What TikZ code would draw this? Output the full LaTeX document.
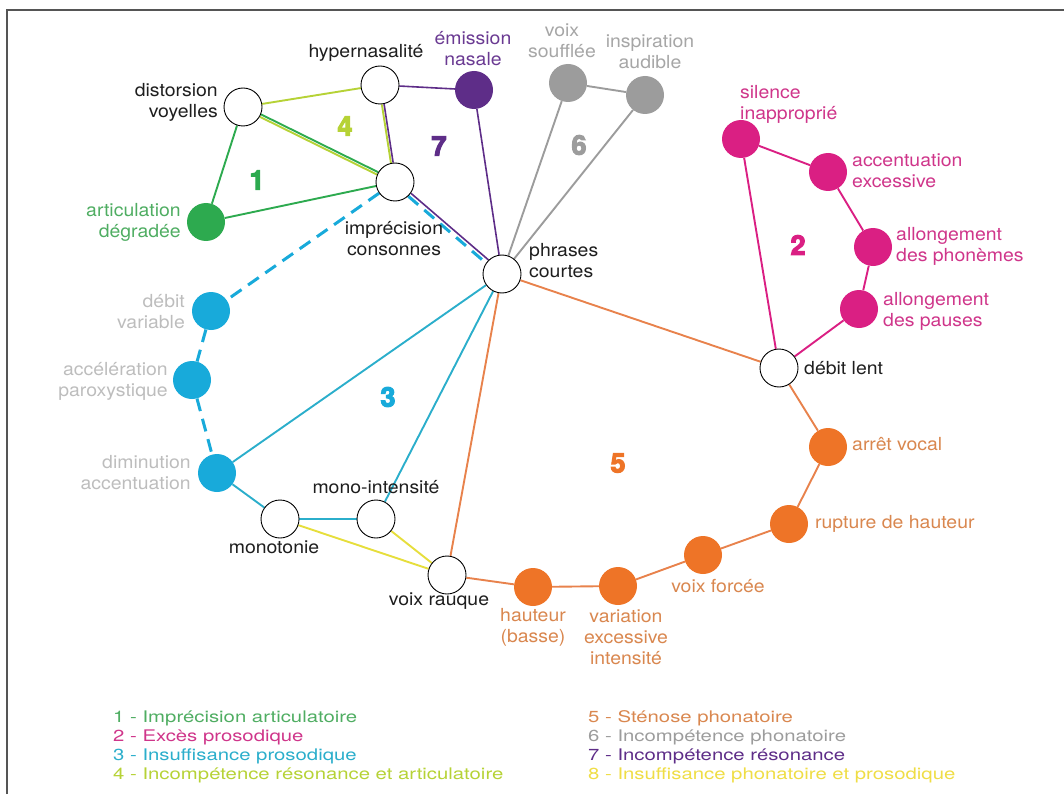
\documentclass[tikz,border=0pt]{standalone}
\usepackage{fontspec}
\setmainfont{TeX Gyre Heros}
\newfontfamily\labfont[FakeStretch=1.08]{TeX Gyre Heros}
\newfontfamily\legfont[FakeStretch=1.27]{TeX Gyre Heros}
\newfontfamily\numfont[FakeBold=4]{TeX Gyre Heros}
\usetikzlibrary{backgrounds}
\definecolor{cgreen}{HTML}{2DAA4F}
\definecolor{tgreen}{HTML}{4FAD62}
\definecolor{clime}{HTML}{B6D236}
\definecolor{cpurple}{HTML}{5E2D88}
\definecolor{tpurple}{HTML}{6A3A92}
\definecolor{cgray}{HTML}{9C9C9C}
\definecolor{tgray}{HTML}{A6A6A6}
\definecolor{cmag}{HTML}{DA1F83}
\definecolor{tmag}{HTML}{CF358A}
\definecolor{corange}{HTML}{EE7427}
\definecolor{lorange}{HTML}{E8824C}
\definecolor{torange}{HTML}{D9874F}
\definecolor{cblue}{HTML}{18AADA}
\definecolor{lblue}{HTML}{2BAECB}
\definecolor{tlight}{HTML}{BDBDBD}
\definecolor{cyellow}{HTML}{E6DE3C}
\definecolor{tyellow}{HTML}{EFDD45}
\definecolor{tblack}{HTML}{1E1E1E}
\definecolor{cframe}{HTML}{555555}
\begin{document}
\begin{tikzpicture}[x=1pt,y=-1pt,
  wnode/.style={circle,draw=black,line width=0.9pt,fill=white,minimum size=38pt,inner sep=0pt},
  fnode/.style={circle,fill=#1,minimum size=38pt,inner sep=0pt},
  lab/.style={inner sep=0pt,font=\labfont\fontsize{18}{21}\selectfont,text=#1},
  num/.style={inner sep=0pt,font=\numfont\bfseries\fontsize{27}{27}\selectfont,text=#1},
  link/.style={line width=1.9pt,draw=#1},
  dlink/.style={line width=3pt,draw=cblue,dash pattern=on 13pt off 8pt},
  leg/.style={anchor=base west,inner sep=0pt,font=\legfont\fontsize{16}{19}\selectfont,text=#1}
]
\useasboundingbox (0,0) rectangle (1064,794);
\draw[line width=2pt,cframe] (7,794) -- (7,10) -- (1064,10);

% nodes
\node[wnode] (dv) at (243,107) {};
\node[wnode] (hy) at (380,85) {};
\node[fnode=cpurple] (em) at (474,90) {};
\node[wnode] (ic) at (395,182) {};
\node[fnode=cgreen] (ad) at (206,222) {};
\node[wnode] (pc) at (502,274) {};
\node[fnode=cgray] (vs) at (568,83) {};
\node[fnode=cgray] (ia) at (645,95) {};
\node[fnode=cmag] (si) at (741,139) {};
\node[fnode=cmag] (ae) at (828,172) {};
\node[fnode=cmag] (ap) at (873,247) {};
\node[fnode=cmag] (apa) at (859,309) {};
\node[wnode] (dl) at (779,368) {};
\node[fnode=corange] (av) at (828,447) {};
\node[fnode=corange] (rh) at (789,524) {};
\node[fnode=corange] (vf) at (703,555) {};
\node[fnode=corange] (vei) at (618,586) {};
\node[fnode=corange] (hb) at (533,587) {};
\node[wnode] (vr) at (447,575) {};
\node[wnode] (mi) at (376,519) {};
\node[wnode] (mo) at (280,519) {};
\node[fnode=cblue] (da) at (217,473) {};
\node[fnode=cblue] (acc) at (192,380) {};
\node[fnode=cblue] (dvb) at (211,311) {};

% edges
\begin{scope}[on background layer]
\draw[link=cgreen] (dv) -- (ad);
\draw[link=cgreen] (ad) -- (ic);
\draw[link=cgreen,transform canvas={shift={(0.6,-1.2)}}] (dv) -- (ic);
\draw[link=clime,transform canvas={shift={(-0.6,1.2)}}] (dv) -- (ic);
\draw[link=clime] (dv) -- (hy);
\draw[link=clime,transform canvas={shift={(-1.1,0.2)}}] (hy) -- (ic);
\draw[link=cpurple,line width=1.6pt,transform canvas={shift={(1.1,-0.2)}}] (hy) -- (ic);
\draw[link=cpurple,line width=1.6pt] (hy) -- (em);
\draw[link=cpurple,line width=1.6pt] (em) -- (pc);
\draw[link=cpurple,line width=1.6pt,transform canvas={shift={(1.2,-1.4)}}] (ic) -- (pc);
\draw[dlink,transform canvas={shift={(-1.4,1.6)}}] (ic) -- (pc);
\draw[link=cgray] (vs) -- (ia);
\draw[link=cgray] (vs) -- (pc);
\draw[link=cgray] (ia) -- (pc);
\draw[link=cmag] (si) -- (ae);
\draw[link=cmag] (ae) -- (ap);
\draw[link=cmag] (ap) -- (apa);
\draw[link=cmag] (apa) -- (dl);
\draw[link=cmag] (si) -- (dl);
\draw[link=lorange] (pc) -- (dl);
\draw[link=lorange] (dl) -- (av);
\draw[link=lorange] (av) -- (rh);
\draw[link=lorange] (rh) -- (vf);
\draw[link=lorange] (vf) -- (vei);
\draw[link=lorange] (vei) -- (hb);
\draw[link=lorange] (hb) -- (vr);
\draw[link=lorange] (vr) -- (pc);
\draw[link=lblue] (da) -- (pc);
\draw[link=lblue] (da) -- (mo);
\draw[link=lblue] (mo) -- (mi);
\draw[link=lblue] (mi) -- (pc);
\draw[dlink] (ic) -- (dvb);
\draw[dlink] (dvb) -- (acc);
\draw[dlink] (acc) -- (da);
\draw[link=cyellow] (mo) -- (vr);
\draw[link=cyellow] (mi) -- (vr);
\end{scope}

% labels
\node[lab=tblack,anchor=east,align=right] (ldv) at (218,102.5) {distorsion\\voyelles};
\node[lab=tblack] (lhy) at (366,53) {hypernasalité};
\node[lab=tpurple,align=center] (lem) at (473,49) {émission\\nasale};
\node[lab=tblack,align=center] (lic) at (394,239) {imprécision\\consonnes};
\node[lab=tgreen,anchor=east,align=right] (lad) at (181,222) {articulation\\dégradée};
\node[lab=tblack,anchor=west,align=left] (lpc) at (529,261) {phrases\\courtes};
\node[lab=tgray,align=center] (lvs) at (562,41) {voix\\soufflée};
\node[lab=tgray,align=center] (lia) at (650,51.5) {inspiration\\audible};
\node[lab=tmag,anchor=west,align=left] (lsi) at (740,104) {silence\\inapproprié};
\node[lab=tmag,anchor=west,align=left] (lae) at (852,171) {accentuation\\excessive};
\node[lab=tmag,anchor=west,align=left] (lap) at (896,246.5) {allongement\\des phonèmes};
\node[lab=tmag,anchor=west,align=left] (lapa) at (883,311.5) {allongement\\des pauses};
\node[lab=tblack,anchor=west] (ldl) at (804,368) {débit lent};
\node[lab=torange,anchor=west] (lav) at (852,444) {arrêt vocal};
\node[lab=torange,anchor=west] (lrh) at (815,524) {rupture de hauteur};
\node[lab=torange] (lvf) at (718,586) {voix forcée};
\node[lab=torange,align=center] (lvei) at (626,637) {variation\\excessive\\intensité};
\node[lab=torange,align=center] (lhb) at (533,627) {hauteur\\(basse)};
\node[lab=tblack] (lvr) at (439,601) {voix rauque};
\node[lab=tblack] (lmi) at (376,487) {mono-intensité};
\node[lab=tblack] (lmo) at (274,547) {monotonie};
\node[lab=tlight,anchor=east,align=right] (lda) at (191,473) {diminution\\accentuation};
\node[lab=tlight,anchor=east,align=right] (lacc) at (168,381.5) {accélération\\paroxystique};
\node[lab=tlight,anchor=east,align=right] (ldvb) at (185,312) {débit\\variable};

% group numbers
\node[num=cgreen] (n1) at (257,180) {1};
\node[num=clime] (n4) at (345,126) {4};
\node[num=cpurple] (n7) at (439,146) {7};
\node[num=cgray] (n6) at (579,145) {6};
\node[num=cmag] (n2) at (798,245) {2};
\node[num=cblue] (n3) at (388,397) {3};
\node[num=corange] (n5) at (618,463) {5};

% legend
\node[leg=tgreen] (g1) at (113,722) {1 - Imprécision articulatoire};
\node[leg=tmag] (g2) at (113,741) {2 - Excès prosodique};
\node[leg=lblue] (g3) at (113,760) {3 - Insuffisance prosodique};
\node[leg=clime] (g4) at (113,779) {4 - Incompétence résonance et articulatoire};
\node[leg=torange] (g5) at (588,722) {5 - Sténose phonatoire};
\node[leg=cgray] (g6) at (588,741) {6 - Incompétence phonatoire};
\node[leg=cpurple] (g7) at (588,760) {7 - Incompétence résonance};
\node[leg=tyellow] (g8) at (588,779) {8 - Insuffisance phonatoire et prosodique};
\end{tikzpicture}
\end{document}
